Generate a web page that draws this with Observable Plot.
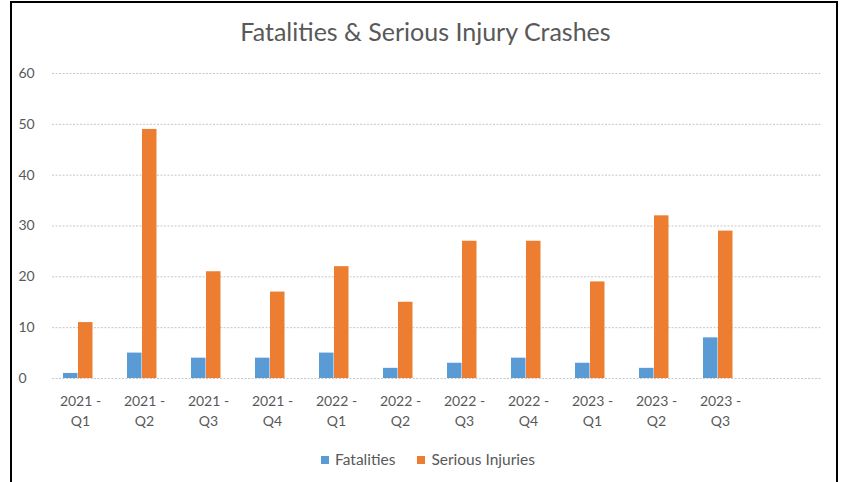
<!DOCTYPE html>
<html>
<head>
<meta charset="utf-8">
<script src="https://cdn.jsdelivr.net/npm/d3@7"></script>
<script src="https://cdn.jsdelivr.net/npm/@observablehq/plot@0.6"></script>
<style>
  body { margin: 0; background: #fff; font-family: Lato, "Open Sans", sans-serif; }
  #wrap { position: relative; width: 841px; height: 482px; overflow: hidden; background: #fff; }
  #frame { position: absolute; left: 10px; top: 1px; width: 828px; height: 520px; border: 2px solid #000; box-sizing: border-box; }
  #title { position: absolute; left: 0; top: 16px; width: 851px; text-align: center; font-size: 25px; color: #595959; }
  #chart { position: absolute; left: 0; top: 50px; }
  #legend { position: absolute; left: 0; top: 450px; width: 856px; text-align: center; font-size: 15.5px; color: #595959; }
  #legend span.sw { display: inline-block; width: 8px; height: 8px; margin-right: 6px; vertical-align: 1px; }
  #legend span.item { margin: 0 11px; }
</style>
</head>
<body>
<div id="wrap">
  <div id="frame"></div>
  <div id="title">Fatalities &amp; Serious Injury Crashes</div>
  <div id="chart"></div>
  <div id="legend"></div>
</div>
<script>
const categories = ["2021 - Q1","2021 - Q2","2021 - Q3","2021 - Q4","2022 - Q1","2022 - Q2","2022 - Q3","2022 - Q4","2023 - Q1","2023 - Q2","2023 - Q3"];
const fatalities = [1,5,4,4,5,2,3,4,3,2,8];
const seriousInjuries = [11,49,21,17,22,15,27,27,19,32,29];
const seriesNames = ["Fatalities","Serious Injuries"];
const seriesColors = ["#5B9BD5","#ED7D31"];
const yTicks = [0,10,20,30,40,50,60];

// an empty trailing slot on the category axis, as in the original
const xDomain = [...categories, ""];

const fatalRows = categories.map((c, i) => ({cat: c, value: fatalities[i]}));
const seriousRows = categories.map((c, i) => ({cat: c, value: seriousInjuries[i]}));

const chart = Plot.plot({
  width: 841,
  height: 390,
  marginLeft: 46,
  marginRight: 27,
  marginTop: 23,
  marginBottom: 62,
  style: {fontFamily: "Lato, 'Open Sans', sans-serif", fontSize: "14px", color: "#595959", background: "transparent"},
  x: {domain: xDomain, padding: 0, label: null},
  y: {domain: [0, 60], label: null},
  marks: [
    Plot.ruleY(yTicks, {stroke: "#c6c6c6", strokeDasharray: "2,1.5", insetLeft: 6, insetRight: -8}),
    Plot.barY(fatalRows, {x: "cat", y: "value", fill: seriesColors[0], insetLeft: 17, insetRight: 32.5}),
    Plot.barY(seriousRows, {x: "cat", y: "value", fill: seriesColors[1], insetLeft: 32, insetRight: 17.5}),
    Plot.axisY({ticks: yTicks, tickSize: 0, tickPadding: 28, textAnchor: "start", fill: "#595959", fontSize: 14, label: null}),
    Plot.axisX({tickSize: 0, tickPadding: 13, fill: "#595959", fontSize: 14, lineHeight: 1.45, label: null, dx: 2,
      tickFormat: d => d === "" ? "" : d.replace(" - ", " -\n")})
  ]
});
document.getElementById("chart").appendChild(chart);

const legend = document.getElementById("legend");
seriesNames.forEach((n, i) => {
  const item = document.createElement("span");
  item.className = "item";
  const sw = document.createElement("span");
  sw.className = "sw";
  sw.style.background = seriesColors[i];
  item.appendChild(sw);
  item.appendChild(document.createTextNode(n));
  legend.appendChild(item);
});
</script>
</body>
</html>
